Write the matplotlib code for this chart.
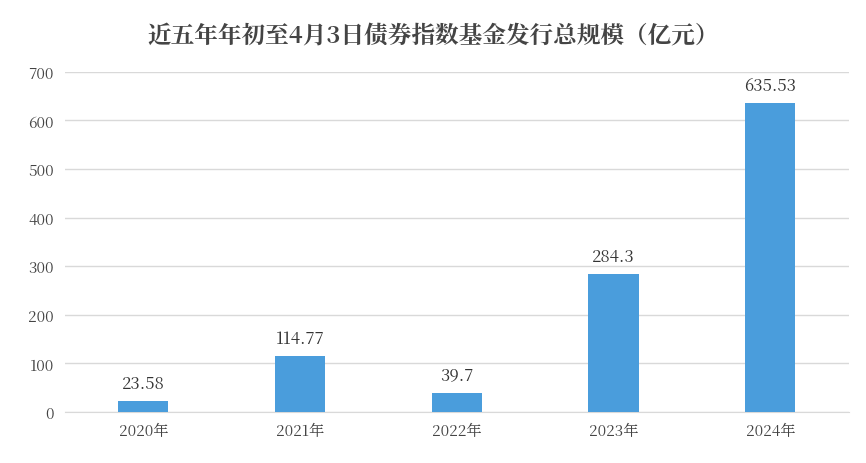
import matplotlib
matplotlib.use("Agg")
import matplotlib.pyplot as plt
from matplotlib import font_manager as fm

categories = ["2020年", "2021年", "2022年", "2023年", "2024年"]
values = [23.58, 114.77, 39.7, 284.3, 635.53]
labels = ["23.58", "114.77", "39.7", "284.3", "635.53"]
yticks = [0, 100, 200, 300, 400, 500, 600, 700]

cjk = [f.name for f in fm.fontManager.ttflist if "CJK" in f.name]
pref = [n for n in cjk if "SC" in n] or cjk
plt.rcParams["font.family"] = "sans-serif"
plt.rcParams["font.sans-serif"] = (pref[:1] if pref else []) + ["DejaVu Sans"]

fig = plt.figure(figsize=(8.66, 4.64), dpi=100)
ax = fig.add_axes([0.075, 0.11, 0.905, 0.733])
x = range(len(categories))
ax.bar(x, values, width=0.32, color="#4a9ddc", zorder=3)
for xi, v, t in zip(x, values, labels):
    ax.text(xi, v + 18, t, ha="center", va="bottom", fontsize=12, color="#333333")
ax.set_xticks(list(x))
ax.set_xticklabels(categories, fontsize=11, color="#444444")
ax.set_yticks(yticks)
ax.set_yticklabels([str(t) for t in yticks], fontsize=11, color="#444444")
ax.set_ylim(0, 700)
ax.set_xlim(-0.5, 4.5)
ax.grid(axis="y", color="#d9d9d9", linewidth=1, zorder=0)
for s in ["top", "right", "left"]:
    ax.spines[s].set_visible(False)
ax.spines["bottom"].set_color("#d9d9d9")
ax.tick_params(length=0, pad=8)
fig.text(0.5, 0.92, "近五年年初至4月3日债券指数基金发行总规模（亿元）", ha="center", va="center",
         fontsize=17, fontweight="bold", color="#444444")
fig.savefig("out.png", dpi=100)
